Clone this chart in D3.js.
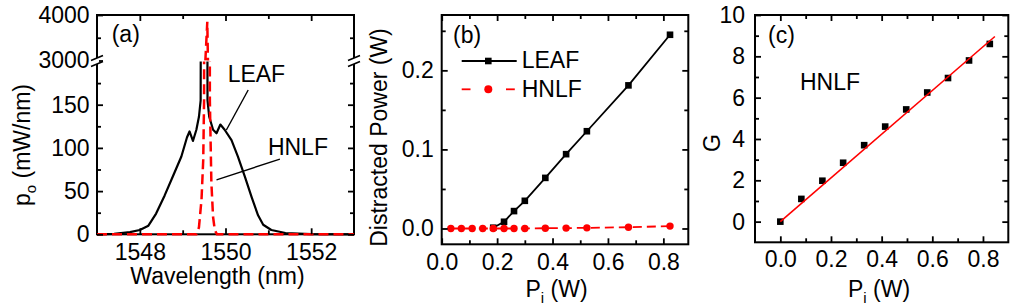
<!DOCTYPE html>
<html>
<head>
<meta charset="utf-8">
<script src="https://d3js.org/d3.v7.min.js"></script>
<style>
  body { margin: 0; background: #fff; }
  text { font-family: Arial, "Liberation Sans", sans-serif; font-size: 23px; fill: #000; }
</style>
</head>
<body>
<div id="chart"></div>
<script>
const width = 1020, height = 306;

// ---- panel (a): output spectra, broken y axis
const leafWavelength = [1547.0, 1547.4, 1547.77, 1548.0, 1548.2, 1548.38, 1548.58, 1548.78, 1548.97, 1549.1,
  1549.16, 1549.24, 1549.32, 1549.38, 1549.42, 1549.5, 1549.58, 1549.62, 1549.71, 1549.79, 1549.88,
  1549.98, 1550.14, 1550.29, 1550.45, 1550.61, 1550.76, 1550.88, 1551.07, 1551.4, 1552.0, 1553.0];
const leafPower = [0, 0.5, 2.5, 5, 10, 24, 45, 68, 90, 112,
  119, 108, 121, 136, 155, 2500, 155, 136, 121, 117, 127,
  121, 109, 90, 67, 43, 22, 11, 5, 1.5, 0.3, 0];
const hnlfWavelength = [1547.0, 1549.32, 1549.38, 1549.44, 1549.48, 1549.5, 1549.53, 1549.575, 1549.59,
  1549.635, 1549.67, 1549.71, 1549.75, 1549.8, 1553.0];
const hnlfPower = [0, 0, 8, 40, 86, 155, 3000, 3850, 3000, 155, 60, 20, 5, 0, 0];
const wavelengthTicks = [1548, 1550, 1552];
const wavelengthMinor = [1549, 1551];
const powerTicksLow = [0, 50, 100, 150];
const powerMinorLow = [25, 75, 125, 175];
const powerTicksHigh = [3000, 4000];
const powerMinorHigh = [3500];

// ---- panel (b): distracted power vs input power
const piHnlf = [0.033, 0.071, 0.110, 0.148, 0.186, 0.225, 0.261, 0.300, 0.374, 0.449, 0.524, 0.674, 0.824];
const hnlfDistracted = [0, 0, 0, 0, 0, 0, 0, 0, 0.0003, 0.0005, 0.0008, 0.0016, 0.003];
const piLeaf = [0.186, 0.225, 0.261, 0.300, 0.374, 0.449, 0.524, 0.674, 0.824];
const leafDistracted = [0.001, 0.0085, 0.022, 0.035, 0.064, 0.094, 0.123, 0.181, 0.245];
const distractedTicks = [0.0, 0.1, 0.2];
const distractedMinor = [0.05, 0.15, 0.25];
const piTicks = [0.0, 0.2, 0.4, 0.6, 0.8];
const piMinorB = [0.1, 0.3, 0.5, 0.7];

// ---- panel (c): gain G vs input power
const piG = [0, 0.083, 0.166, 0.248, 0.331, 0.414, 0.497, 0.580, 0.662, 0.745, 0.827];
const gainG = [0, 1.1, 1.98, 2.85, 3.7, 4.6, 5.43, 6.25, 6.95, 7.8, 8.6];
const fitPi = [0, 0.847];
const fitG = [0, 8.96];
const gTicks = [0, 2, 4, 6, 8, 10];
const gMinor = [1, 3, 5, 7, 9];
const piMinorC = [0.1, 0.3, 0.5, 0.7];

const RED = "#ff0000";

const svg = d3.select("#chart").append("svg")
  .attr("width", width).attr("height", height)
  .style("background", "#fff");

function frame(x0, y0, x1, y1) {
  svg.append("rect")
    .attr("x", x0).attr("y", y0)
    .attr("width", x1 - x0).attr("height", y1 - y0)
    .attr("fill", "none").attr("stroke", "#000").attr("stroke-width", 2);
}

// inward ticks (negative size), labels only when fmt given
function ticks(axisFn, scale, values, size, fmt, tx, ty, pad) {
  const ax = axisFn(scale).tickValues(values).tickSize(-size)
    .tickPadding(pad || 0).tickFormat(fmt ? d3.format(fmt) : "");
  const g = svg.append("g").attr("transform", `translate(${tx},${ty})`).call(ax);
  g.select(".domain").remove();
  g.selectAll("line").attr("stroke", "#000").attr("stroke-width", 1.8);
  g.selectAll("text").attr("fill", "#000");
  return g;
}

function label(x, y, txt, anchor) {
  return svg.append("text").attr("x", x).attr("y", y)
    .attr("text-anchor", anchor || "start").text(txt);
}

// ================= panel (a) =================
const ax0 = 97, ax1 = 354, ay0 = 15, ay1 = 234.3;
const xA = d3.scaleLinear().domain([1547, 1553]).range([ax0, ax1]);
const yLow = d3.scaleLinear().domain([0, 200]).range([ay1, 61.5]);
const yHigh = d3.scaleLinear().domain([3000, 4000]).range([60.5, ay0]);

const defs = svg.append("defs");
defs.append("clipPath").attr("id", "clipLow").append("rect")
  .attr("x", ax0).attr("y", 61.5).attr("width", ax1 - ax0).attr("height", ay1 - 61.5 + 2);
defs.append("clipPath").attr("id", "clipHigh").append("rect")
  .attr("x", ax0).attr("y", ay0).attr("width", ax1 - ax0).attr("height", 60.5 - ay0);

frame(ax0, ay0, ax1, ay1);

const leafA = leafWavelength.map((w, i) => [w, leafPower[i]]);
const hnlfA = hnlfWavelength.map((w, i) => [w, hnlfPower[i]]);

[["clipLow", yLow], ["clipHigh", yHigh]].forEach(([clip, ys]) => {
  const line = d3.line().x(d => xA(d[0])).y(d => ys(d[1]));
  const g = svg.append("g").attr("clip-path", `url(#${clip})`);
  g.append("path").attr("d", line(leafA))
    .attr("fill", "none").attr("stroke", "#000").attr("stroke-width", 2.2)
    .attr("stroke-linejoin", "round");
  g.append("path").attr("d", line(hnlfA))
    .attr("fill", "none").attr("stroke", RED).attr("stroke-width", 2.5)
    .attr("stroke-dasharray", "10,5");
});

ticks(d3.axisBottom, xA, wavelengthTicks, 6, "d", 0, ay1, 9.4);
ticks(d3.axisBottom, xA, wavelengthMinor, 4, null, 0, ay1);
ticks(d3.axisTop, xA, wavelengthTicks, 6, null, 0, ay0);
ticks(d3.axisTop, xA, wavelengthMinor, 4, null, 0, ay0);
ticks(d3.axisLeft, yLow, powerTicksLow, 6, "d", ax0, 0, 7.4);
ticks(d3.axisLeft, yLow, powerMinorLow, 4, null, ax0, 0);
ticks(d3.axisLeft, yHigh, powerTicksHigh, 6, "d", ax0, 0, 7.4);
ticks(d3.axisLeft, yHigh, powerMinorHigh, 4, null, ax0, 0);
ticks(d3.axisRight, yLow, powerTicksLow, 6, null, ax1, 0);
ticks(d3.axisRight, yLow, powerMinorLow, 4, null, ax1, 0);
ticks(d3.axisRight, yHigh, powerMinorHigh, 4, null, ax1, 0);

// axis break marks
[ax0, ax1].forEach(x => {
  svg.append("rect").attr("x", x - 2).attr("y", 58).attr("width", 4).attr("height", 6).attr("fill", "#fff");
  [58, 64].forEach(y => {
    svg.append("line").attr("x1", x - 6).attr("y1", y + 2.5).attr("x2", x + 6).attr("y2", y - 2.5)
      .attr("stroke", "#000").attr("stroke-width", 1.6);
  });
});

label(111.7, 42, "(a)");
label(xA(1550.05), yLow(176), "LEAF");
label(xA(1550.99), yLow(92), "HNLF");
svg.append("line").attr("x1", xA(1550.53)).attr("y1", yLow(167)).attr("x2", xA(1550.02)).attr("y2", yLow(120.7))
  .attr("stroke", "#000").attr("stroke-width", 1.4);
svg.append("line").attr("x1", xA(1551.27)).attr("y1", yLow(87)).attr("x2", xA(1549.79)).attr("y2", yLow(63))
  .attr("stroke", "#000").attr("stroke-width", 1.4);

label(217.5, 283.5, "Wavelength (nm)", "middle");
const ytA = svg.append("text").attr("transform", "translate(30,145) rotate(-90)").attr("text-anchor", "middle");
ytA.append("tspan").text("p");
ytA.append("tspan").attr("dy", 6).style("font-size", "15px").text("o");
ytA.append("tspan").attr("dy", -6).text(" (mW/nm)");

// ================= panel (b) =================
const bx0 = 441.7, bx1 = 688.3, by0 = 15, by1 = 244.3;
const xB = d3.scaleLinear().domain([0, 0.89]).range([bx0, bx1]);
const yB = d3.scaleLinear().domain([-0.02, 0.27]).range([by1, by0]);

frame(bx0, by0, bx1, by1);

const lineB = d3.line().x(d => xB(d[0])).y(d => yB(d[1]));
const leafB = piLeaf.map((p, i) => [p, leafDistracted[i]]);
const hnlfB = piHnlf.map((p, i) => [p, hnlfDistracted[i]]);

svg.append("path").attr("d", lineB(leafB)).attr("fill", "none").attr("stroke", "#000").attr("stroke-width", 1.8);
svg.selectAll(".sqB").data(leafB).enter().append("rect")
  .attr("x", d => xB(d[0]) - 3.3).attr("y", d => yB(d[1]) - 3.3)
  .attr("width", 6.6).attr("height", 6.6).attr("fill", "#000");
svg.append("path").attr("d", lineB(hnlfB)).attr("fill", "none").attr("stroke", RED)
  .attr("stroke-width", 1.8).attr("stroke-dasharray", "9,5");
svg.selectAll(".dotB").data(hnlfB).enter().append("circle")
  .attr("cx", d => xB(d[0])).attr("cy", d => yB(d[1])).attr("r", 3.7).attr("fill", RED);

ticks(d3.axisBottom, xB, piTicks, 6, ".1f", 0, by1, 9.4);
ticks(d3.axisBottom, xB, piMinorB, 4, null, 0, by1);
ticks(d3.axisTop, xB, piTicks, 6, null, 0, by0);
ticks(d3.axisTop, xB, piMinorB, 4, null, 0, by0);
ticks(d3.axisLeft, yB, distractedTicks, 6, ".1f", bx0, 0, 8);
ticks(d3.axisLeft, yB, distractedMinor, 4, null, bx0, 0);
ticks(d3.axisRight, yB, distractedTicks, 6, null, bx1, 0);
ticks(d3.axisRight, yB, distractedMinor, 4, null, bx1, 0);

label(453, 43, "(b)");
// legend
svg.append("line").attr("x1", 461.7).attr("x2", 516.7).attr("y1", 61).attr("y2", 61)
  .attr("stroke", "#000").attr("stroke-width", 1.8);
svg.append("rect").attr("x", 488.3 - 3.3).attr("y", 61 - 3.3).attr("width", 6.6).attr("height", 6.6).attr("fill", "#000");
label(521.7, 68.3, "LEAF");
[[461.7, 470.5], [506, 514.8]].forEach(s => {
  svg.append("line").attr("x1", s[0]).attr("x2", s[1]).attr("y1", 89.3).attr("y2", 89.3)
    .attr("stroke", RED).attr("stroke-width", 1.8);
});
svg.append("circle").attr("cx", 488.3).attr("cy", 89.3).attr("r", 4).attr("fill", RED);
label(521.7, 96.7, "HNLF");

const xtB = svg.append("text").attr("x", 556.5).attr("y", 296.5).attr("text-anchor", "middle");
xtB.append("tspan").text("P");
xtB.append("tspan").attr("dy", 6).style("font-size", "15px").text("i");
xtB.append("tspan").attr("dy", -6).text(" (W)");
svg.append("text").attr("transform", "translate(387,137.5) rotate(-90)").attr("text-anchor", "middle")
  .text("Distracted Power (W)");

// ================= panel (c) =================
const cx0 = 755, cx1 = 1008.3, cy0 = 15, cy1 = 242.3;
const xC = d3.scaleLinear().domain([-0.1, 0.9]).range([cx0, cx1]);
const yC = d3.scaleLinear().domain([-1, 10]).range([cy1, cy0]);

frame(cx0, cy0, cx1, cy1);

const gPts = piG.map((p, i) => [p, gainG[i]]);
svg.selectAll(".sqC").data(gPts).enter().append("rect")
  .attr("x", d => xC(d[0]) - 3.3).attr("y", d => yC(d[1]) - 3.3)
  .attr("width", 6.6).attr("height", 6.6).attr("fill", "#000");
const fitPts = fitPi.map((p, i) => [p, fitG[i]]);
svg.append("path").attr("d", d3.line().x(d => xC(d[0])).y(d => yC(d[1]))(fitPts))
  .attr("fill", "none").attr("stroke", RED).attr("stroke-width", 1.6);

ticks(d3.axisBottom, xC, piTicks, 6, ".1f", 0, cy1, 8.1);
ticks(d3.axisBottom, xC, piMinorC, 4, null, 0, cy1);
ticks(d3.axisTop, xC, piTicks, 6, null, 0, cy0);
ticks(d3.axisTop, xC, piMinorC, 4, null, 0, cy0);
ticks(d3.axisLeft, yC, gTicks, 6, "d", cx0, 0, 10);
ticks(d3.axisLeft, yC, gMinor, 4, null, cx0, 0);
ticks(d3.axisRight, yC, gTicks, 6, null, cx1, 0);
ticks(d3.axisRight, yC, gMinor, 4, null, cx1, 0);

label(768, 43, "(c)");
label(800, 90, "HNLF");
const xtC = svg.append("text").attr("x", 879).attr("y", 296.5).attr("text-anchor", "middle");
xtC.append("tspan").text("P");
xtC.append("tspan").attr("dy", 6).style("font-size", "15px").text("i");
xtC.append("tspan").attr("dy", -6).text(" (W)");
svg.append("text").attr("transform", "translate(720,143) rotate(-90)").attr("text-anchor", "middle").text("G");
</script>
</body>
</html>
